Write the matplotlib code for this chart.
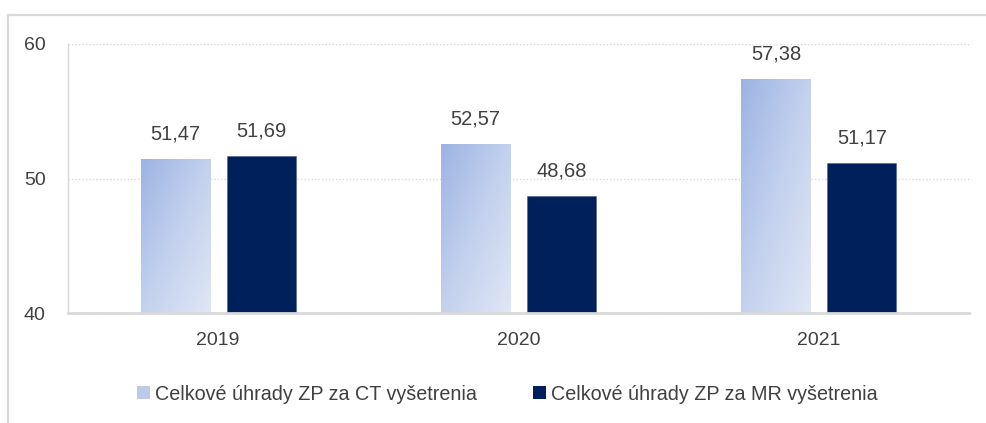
import numpy as np
import matplotlib
matplotlib.use("Agg")
import matplotlib.pyplot as plt
from matplotlib.lines import Line2D
from matplotlib.patches import Patch
from matplotlib.colors import LinearSegmentedColormap

plt.rcParams['font.family'] = ['Liberation Sans', 'DejaVu Sans']

years = ['2019', '2020', '2021']
ct_values = [51.47, 52.57, 57.38]
mr_values = [51.69, 48.68, 51.17]
series_names = ['Celkové úhrady ZP za CT vyšetrenia', 'Celkové úhrady ZP za MR vyšetrenia']
y_ticks = [40, 50, 60]

text_color = '#404040'
mr_color = '#00205b'
grad = LinearSegmentedColormap.from_list('ct', ['#9cb3e2', '#c3d1ee', '#e0e7f5'])

W, H = 987, 423
fig = plt.figure(figsize=(W / 100, H / 100), dpi=100)

# outer chart frame: only left and top edges are inside the canvas
fx, fy = 8 / W, 1 - 15 / H
fig.add_artist(Line2D([fx, fx], [0, fy], transform=fig.transFigure, color='#d9d9d9', lw=1.6))
fig.add_artist(Line2D([fx, 1], [fy, fy], transform=fig.transFigure, color='#d9d9d9', lw=1.6))

ax = fig.add_axes([68 / W, 1 - 313 / H, (969 - 68) / W, (313 - 44) / H])

x = np.arange(len(years))
width = 0.23
offset = 0.143

ct_bars = ax.bar(x - offset, ct_values, width, color='none', edgecolor='none', zorder=2)
mr_bars = ax.bar(x + offset, mr_values, width, color=mr_color, edgecolor='#4a5f8a', linewidth=0.4, zorder=2)

# diagonal gradient fill for the CT bars
gy, gx = np.mgrid[0:1:100j, 0:1:100j]
gimg = (gx + gy) / 2
for bar in ct_bars:
    x0 = bar.get_x()
    x1 = x0 + bar.get_width()
    im = ax.imshow(gimg, cmap=grad, extent=(x0, x1, 40, bar.get_height()), origin='upper',
                   aspect='auto', zorder=2, interpolation='bilinear')
    im.set_clip_path(bar)

for bars, vals in ((ct_bars, ct_values), (mr_bars, mr_values)):
    for bar, v in zip(bars, vals):
        ax.annotate(f"{v:.2f}".replace('.', ','),
                    (bar.get_x() + bar.get_width() / 2, v),
                    xytext=(0, 11), textcoords='offset points',
                    ha='center', va='bottom', fontsize=14.5, color=text_color)

ax.set_xlim(-0.5, len(years) - 0.5)
ax.set_ylim(40, 60)
ax.set_yticks(y_ticks)
ax.set_xticks(x)
ax.set_xticklabels(years)
ax.tick_params(axis='both', length=0, labelsize=14, colors=text_color)
ax.tick_params(axis='y', pad=16)
ax.tick_params(axis='x', pad=14)

ax.yaxis.grid(True, linestyle=(0, (1, 1.5)), color='#d9d9d9', linewidth=1)
ax.set_axisbelow(True)
for s in ('top', 'right'):
    ax.spines[s].set_visible(False)
ax.spines['left'].set_color('#d9d9d9')
ax.spines['left'].set_linewidth(1)
ax.spines['bottom'].set_color('#d9d9d9')
ax.spines['bottom'].set_linewidth(2)

handles = [Patch(facecolor='#bccbec', edgecolor='none'), Patch(facecolor=mr_color, edgecolor='none')]
fig.legend(handles, series_names, loc='center', bbox_to_anchor=(0.514, 1 - 394 / H),
           ncol=2, frameon=False, fontsize=14.2, labelcolor=text_color,
           handlelength=0.67, handleheight=0.67, handletextpad=0.26, columnspacing=2.8)

fig.savefig('out.png', dpi=100)
